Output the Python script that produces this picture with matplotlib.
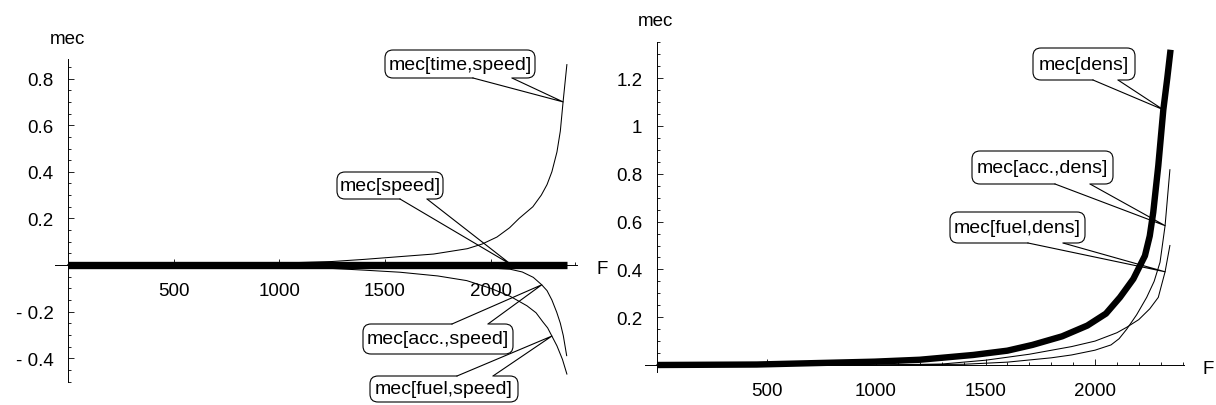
import numpy as np
import matplotlib
matplotlib.use("Agg")
import matplotlib.pyplot as plt
from matplotlib.patches import FancyBboxPatch
from matplotlib.lines import Line2D
from matplotlib.transforms import Affine2D

plt.rcParams["font.family"] = ["Liberation Sans", "DejaVu Sans"]

# ---- values ----
# left plot: elasticities with respect to speed
speed_F = [0, 500, 1000, 1500, 2000, 2100, 2360]
speed_mec = [0, 0, 0, 0, 0, 0, 0]

time_speed_F = [0, 500, 1000, 1250, 1400, 1500, 1600, 1730, 1890, 1960, 2030, 2090, 2135,
                2200, 2240, 2267, 2290, 2314, 2330, 2343, 2361]
time_speed_mec = [0, 0.002, 0.008, 0.015, 0.024, 0.031, 0.038, 0.047, 0.07, 0.09, 0.12, 0.16, 0.2,
                  0.25, 0.3, 0.345, 0.4, 0.485, 0.575, 0.70, 0.86]

acc_speed_F = [0, 1000, 1500, 1800, 2000, 2092, 2150, 2202, 2242, 2267, 2290, 2313, 2330, 2344, 2360]
acc_speed_mec = [0, -0.002, -0.005, -0.009, -0.013, -0.018, -0.03, -0.053, -0.085, -0.11, -0.15,
                 -0.203, -0.25, -0.303, -0.389]

fuel_speed_F = [0, 1000, 1255, 1400, 1571, 1750, 1887, 2000, 2092, 2172, 2215, 2248, 2270, 2290,
                2314, 2340, 2361]
fuel_speed_mec = [0, -0.005, -0.015, -0.022, -0.031, -0.047, -0.067, -0.1, -0.134, -0.175, -0.205,
                  -0.245, -0.27, -0.305, -0.347, -0.405, -0.468]

# right plot: elasticities with respect to density
dens_F = [0, 455, 994, 1200, 1444, 1600, 1714, 1850, 1965, 2050, 2114, 2175, 2228, 2250, 2266,
          2289, 2312, 2330, 2345]
dens_mec = [0, 0.002, 0.014, 0.022, 0.042, 0.06, 0.084, 0.12, 0.165, 0.215, 0.283, 0.36, 0.457,
            0.54, 0.639, 0.834, 1.068, 1.2, 1.319]

acc_dens_F = [0, 1000, 1400, 1600, 1800, 1893, 2000, 2073, 2110, 2145, 2190, 2236, 2270, 2297,
              2320, 2342]
acc_dens_mec = [0, 0, 0.003, 0.012, 0.03, 0.042, 0.062, 0.084, 0.11, 0.15, 0.21, 0.283, 0.35,
                0.43, 0.583, 0.817]

fuel_dens_F = [0, 1000, 1300, 1500, 1700, 1893, 2000, 2100, 2145, 2200, 2250, 2289, 2320, 2342]
fuel_dens_mec = [0, 0, 0.004, 0.02, 0.045, 0.077, 0.1, 0.135, 0.158, 0.19, 0.235, 0.283, 0.39, 0.5]

x_ticks = [500, 1000, 1500, 2000]
left_yticks = [-0.4, -0.2, 0.2, 0.4, 0.6, 0.8]
left_ylabels = ["- 0.4", "- 0.2", "0.2", "0.4", "0.6", "0.8"]
right_yticks = [0.2, 0.4, 0.6, 0.8, 1.0, 1.2]
right_ylabels = ["0.2", "0.4", "0.6", "0.8", "1", "1.2"]

# ---- figure ----
W, H = 1216, 406
fig = plt.figure(figsize=(W / 100, H / 100), dpi=100)
# image pixel coords (origin top-left)
img = Affine2D().scale(1.0 / W, -1.0 / H).translate(0, 1) + fig.transFigure

FS = 13.5
THIN = 0.75


def make_axes(box, origin, scale, xb, yb, yminor):
    l, t, r, b = box
    ox, oy = origin
    sx, sy = scale
    ax = fig.add_axes([l / W, 1 - b / H, (r - l) / W, (b - t) / H])
    ax.set_xlim((l - ox) / sx, (r - ox) / sx)
    ax.set_ylim((oy - b) / sy, (oy - t) / sy)
    ax.patch.set_visible(False)
    for s in ["top", "right"]:
        ax.spines[s].set_visible(False)
    for s in ["left", "bottom"]:
        ax.spines[s].set_position(("data", 0))
        ax.spines[s].set_linewidth(0.7)
    ax.spines["bottom"].set_bounds(*xb)
    ax.spines["left"].set_bounds(*yb)
    xm = [v for v in np.arange(100, 2401, 100) if v % 500 != 0]
    ax.set_xticks(xm, minor=True)
    ax.set_yticks(yminor, minor=True)
    ax.tick_params(which="both", direction="in", width=0.6, labelsize=FS)
    ax.tick_params(which="major", length=4)
    ax.tick_params(which="minor", length=2.3)
    ax.tick_params(axis="y", pad=10.5)
    ax.tick_params(axis="x", pad=12.5)
    return ax


lm = [round(v, 2) for v in np.arange(-0.5, 0.851, 0.05)]
lm = [v for v in lm if abs(v) > 1e-9 and abs(v * 5 - round(v * 5)) > 1e-6]
axL = make_axes((30, 45, 600, 400), (68, 266), (0.2113, 233), (-62, 2410), (-0.502, 0.884), lm)
axL.set_xticks(x_ticks, [str(v) for v in x_ticks])
axL.set_yticks(left_yticks, left_ylabels)

rm = [round(v, 2) for v in np.arange(0.05, 1.351, 0.05)]
rm = [v for v in rm if abs(v * 5 - round(v * 5)) > 1e-6]
axR = make_axes((615, 30, 1200, 400), (657, 366), (0.219, 239), (-55, 2406), (-0.03, 1.351), rm)
axR.set_xticks(x_ticks, [str(v) for v in x_ticks])
axR.set_yticks(right_yticks, right_ylabels)

axL.plot(time_speed_F, time_speed_mec, color="black", lw=THIN)
axL.plot(acc_speed_F, acc_speed_mec, color="black", lw=THIN)
axL.plot(fuel_speed_F, fuel_speed_mec, color="black", lw=THIN)
axL.plot(speed_F, speed_mec, color="black", lw=5.3, solid_capstyle="butt")

axR.plot(acc_dens_F, acc_dens_mec, color="black", lw=THIN)
axR.plot(fuel_dens_F, fuel_dens_mec, color="black", lw=THIN)
axR.plot(dens_F, dens_mec, color="black", lw=4.6, solid_capstyle="butt", solid_joinstyle="round")


def callout(ax, label, box, base, tip, edge):
    x0, y0, x1, y1 = box
    fig.add_artist(FancyBboxPatch((x0, y0), x1 - x0, y1 - y0,
                                  boxstyle="round,pad=0,rounding_size=8",
                                  transform=img, fc="white", ec="black", lw=0.8, zorder=5))
    ey = y1 if edge == "bottom" else y0
    tx, ty = img.inverted().transform(ax.transData.transform(tip))
    fig.add_artist(Line2D([base[0], base[1]], [ey, ey], transform=img, color="white",
                          lw=2.2, solid_capstyle="butt", zorder=6))
    fig.add_artist(Line2D([base[0], tx, base[1]], [ey, ty, ey], transform=img,
                          color="black", lw=0.8, zorder=7))
    fig.text((x0 + x1) / 2 / W, 1 - (y0 + y1) / 2 / H, label, ha="center", va="center",
             fontsize=14, zorder=8)


callout(axL, "mec[time,speed]", (385, 51, 535, 79), (473, 512),
        (time_speed_F[19], time_speed_mec[19]), "bottom")
callout(axL, "mec[speed]", (337, 173, 443, 200), (400, 427),
        (speed_F[5], speed_mec[5]), "bottom")
callout(axL, "mec[acc.,speed]", (363, 325, 513, 355), (452, 488),
        (acc_speed_F[8], acc_speed_mec[8]), "top")
callout(axL, "mec[fuel,speed]", (370, 377, 518, 403), (457, 493),
        (fuel_speed_F[13], fuel_speed_mec[13]), "top")

callout(axR, "mec[dens]", (1033, 49, 1135, 81), (1093, 1118),
        (dens_F[16], dens_mec[16]), "bottom")
callout(axR, "mec[acc.,dens]", (972, 152, 1113, 185), (1055, 1090),
        (acc_dens_F[14], acc_dens_mec[14]), "bottom")
callout(axR, "mec[fuel,dens]", (950, 213, 1085, 244), (1028, 1063),
        (fuel_dens_F[12], fuel_dens_mec[12]), "bottom")

# axis labels
fig.text(67 / W, 1 - 39 / H, "mec", ha="center", va="center", fontsize=FS)
fig.text(655 / W, 1 - 21 / H, "mec", ha="center", va="center", fontsize=FS)
fig.text(602 / W, 1 - 270 / H, "F", ha="center", va="center", fontsize=FS)
fig.text(1208 / W, 1 - 370 / H, "F", ha="center", va="center", fontsize=FS)

fig.savefig("out.png", dpi=100)
